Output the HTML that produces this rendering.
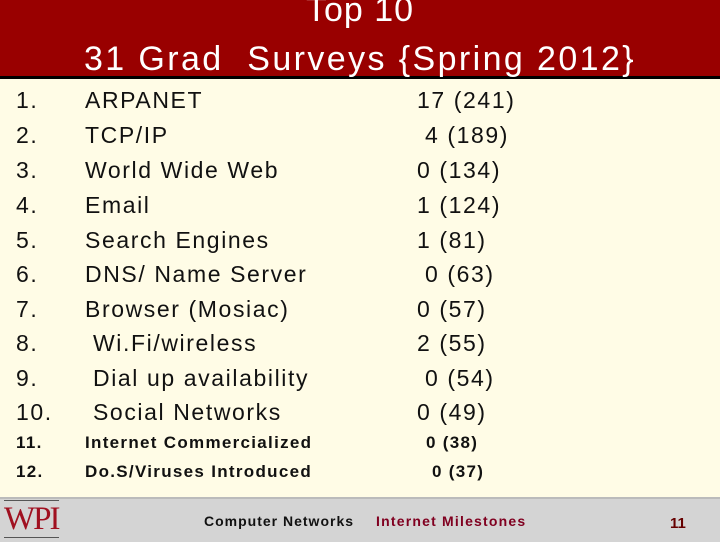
<!DOCTYPE html>
<html><head><meta charset="utf-8"><style>
body{margin:0;width:720px;height:540px;overflow:hidden;background:#FFFCE6;font-family:"Liberation Sans",sans-serif;position:relative}
.t{position:absolute;white-space:pre;color:#111}
.r{font-size:23px;line-height:24px;letter-spacing:1.6px}
.s{font-size:17px;line-height:18px;font-weight:bold;letter-spacing:1.3px}
</style></head><body>
<div style="position:absolute;left:0;top:0;width:720px;height:76px;background:#990000;border-bottom:3px solid #000"></div>
<div class="t" style="left:0;width:720px;text-align:center;top:-9px;font-size:34px;letter-spacing:1px;color:#fff">Top 10</div>
<div class="t" style="left:0;width:720px;text-align:center;top:40px;font-size:34px;letter-spacing:2.4px;color:#fff">31 Grad  Surveys {Spring 2012}</div>
<div id="rows"></div>
<div style="position:absolute;left:0;top:497px;width:720px;height:43px;background:#D4D4D4;border-top:2px solid #bbb"></div>
<div class="t" style="left:4px;top:500px;font-family:'Liberation Serif',serif;font-size:33px;color:#a01020;border-top:1px solid #555;border-bottom:1px solid #555;line-height:36px;letter-spacing:-2px">WPI</div>
<div class="t" style="left:204px;top:513px;font-size:14px;font-weight:bold;letter-spacing:1px">Computer Networks</div>
<div class="t" style="left:376px;top:513px;font-size:14px;font-weight:bold;letter-spacing:1.2px;color:#800020">Internet Milestones</div>
<div class="t" style="left:670px;top:515px;font-size:15px;font-weight:bold;color:#600">11</div>
<script>
const items=["ARPANET","TCP/IP","World Wide Web","Email","Search Engines","DNS/ Name Server","Browser (Mosiac)"," Wi.Fi/wireless"," Dial up availability"," Social Networks","Internet Commercialized","Do.S/Viruses Introduced"];
const counts=["17 (241)"," 4 (189)","0 (134)","1 (124)","1 (81)"," 0 (63)","0 (57)","2 (55)"," 0 (54)","0 (49)","0 (38)"," 0 (37)"];
const tops=[88,123,158,193,228,262,297,331,366,400,434,463];
const c=document.getElementById('rows');
items.forEach((it,i)=>{
  const cls=i<10?'r':'s';
  const n=document.createElement('div');n.className='t '+cls;n.style.left='16px';n.style.top=tops[i]+'px';n.textContent=(i+1)+'.';
  
  
  c.appendChild(n);
  const l=document.createElement('div');l.className='t '+cls;l.style.left='85px';l.style.top=tops[i]+'px';l.textContent=it;
  
  
  c.appendChild(l);
  const v=document.createElement('div');v.className='t '+cls;v.style.left=(i<10?'417px':'426px');v.style.top=tops[i]+'px';v.textContent=counts[i];
  
  
  c.appendChild(v);
});
</script>
</body></html>
